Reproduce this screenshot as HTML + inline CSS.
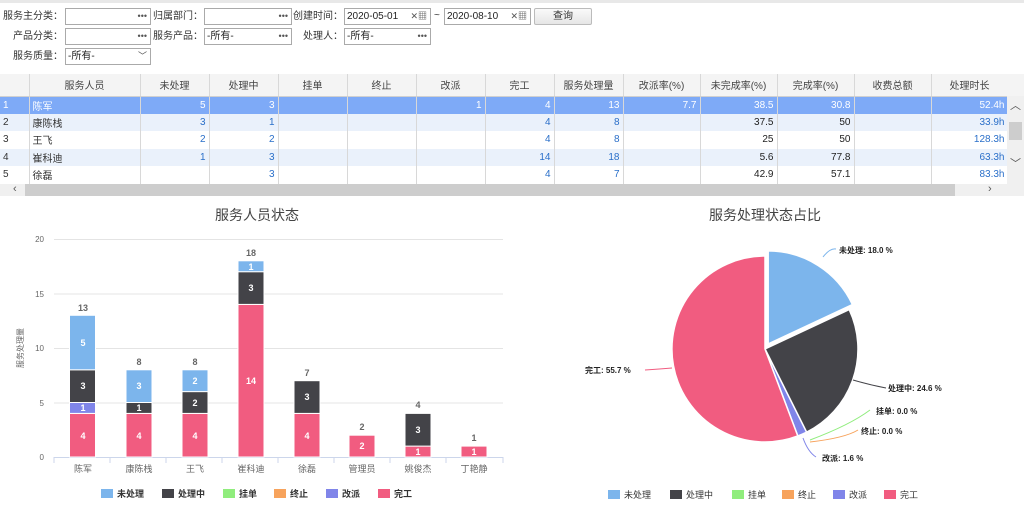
<!DOCTYPE html>
<html><head><meta charset="utf-8"><style>
*{margin:0;padding:0;box-sizing:border-box}
body{width:1024px;height:517px;background:#fff;font-family:"Liberation Sans","Noto Sans CJK SC",sans-serif;font-size:10px;color:#333;position:relative;overflow:hidden}
.a{position:absolute}
.lbl{position:absolute;font-size:10px;color:#333;text-align:right;line-height:12px}
.inp{position:absolute;height:17px;border:1px solid #aaa;background:#fff;font-size:10px;line-height:15px;padding-left:2px;color:#222}
.inp .d{position:absolute;right:3px;top:0;color:#555;font-size:9px}
table{position:absolute;left:0;top:74px;border-collapse:collapse;table-layout:fixed}
td,th{height:17.5px;border-right:1px solid #d8d8d8;font-size:10px;font-weight:normal;padding:0 3px;white-space:nowrap;overflow:hidden}
th{height:22px;background:#f4f4f4;color:#444;text-align:center;border-bottom:1px solid #d0d0d0}
td{text-align:right;color:#2a6fc9}
td.n{text-align:left;color:#333}
td.k{color:#222}
tr.sel td{background:#7eaaf7;color:#fff}
tr.alt td{background:#eaf1fb}
</style></head><body>
<div class="a" style="left:0;top:0;width:1024px;height:3px;background:#e8e8e8"></div>
<div class="lbl" style="left:0;top:11px;width:63px">服务主分类：</div>
<div class="inp" style="left:65px;top:8px;width:86px"><span class="d">•••</span></div>
<div class="lbl" style="left:150px;top:11px;width:53px">归属部门：</div>
<div class="inp" style="left:204px;top:8px;width:88px"><span class="d">•••</span></div>
<div class="lbl" style="left:290px;top:11px;width:53px">创建时间：</div>
<div class="inp" style="left:344px;top:8px;width:87px">2020-05-01<span class="d">✕▦</span></div>
<div class="a" style="left:434px;top:10px">~</div>
<div class="inp" style="left:444px;top:8px;width:87px">2020-08-10<span class="d">✕▦</span></div>
<div class="a" style="left:534px;top:8px;width:58px;height:17px;border:1px solid #bbb;border-radius:2px;background:linear-gradient(#fafafa,#e6e6e6);text-align:center;line-height:15px">查询</div>
<div class="lbl" style="left:0;top:31px;width:63px">产品分类：</div>
<div class="inp" style="left:65px;top:28px;width:86px"><span class="d">•••</span></div>
<div class="lbl" style="left:150px;top:31px;width:53px">服务产品：</div>
<div class="inp" style="left:204px;top:28px;width:88px">-所有-<span class="d">•••</span></div>
<div class="lbl" style="left:290px;top:31px;width:53px">处理人：</div>
<div class="inp" style="left:344px;top:28px;width:87px">-所有-<span class="d">•••</span></div>
<div class="lbl" style="left:0;top:51px;width:63px">服务质量：</div>
<div class="inp" style="left:65px;top:48px;width:86px">-所有-<span class="d">﹀</span></div>

<table>
<colgroup><col style="width:29px"><col style="width:111px"><col style="width:69px"><col style="width:69px"><col style="width:69px"><col style="width:69px"><col style="width:69px"><col style="width:69px"><col style="width:69px"><col style="width:77px"><col style="width:77px"><col style="width:77px"><col style="width:77px"><col style="width:77px"></colgroup>
<tr><th></th><th>服务人员</th><th>未处理</th><th>处理中</th><th>挂单</th><th>终止</th><th>改派</th><th>完工</th><th>服务处理量</th><th>改派率(%)</th><th>未完成率(%)</th><th>完成率(%)</th><th>收费总额</th><th>处理时长</th></tr>
<tr class="sel"><td class="n" style="color:#fff">1</td><td class="n" style="color:#fff">陈军</td><td>5</td><td>3</td><td></td><td></td><td>1</td><td>4</td><td>13</td><td>7.7</td><td>38.5</td><td>30.8</td><td></td><td>52.4h</td></tr>
<tr class="alt"><td class="n">2</td><td class="n">康陈栈</td><td>3</td><td>1</td><td></td><td></td><td></td><td>4</td><td>8</td><td></td><td class="k">37.5</td><td class="k">50</td><td></td><td>33.9h</td></tr>
<tr><td class="n">3</td><td class="n">王飞</td><td>2</td><td>2</td><td></td><td></td><td></td><td>4</td><td>8</td><td></td><td class="k">25</td><td class="k">50</td><td></td><td>128.3h</td></tr>
<tr class="alt"><td class="n">4</td><td class="n">崔科迪</td><td>1</td><td>3</td><td></td><td></td><td></td><td>14</td><td>18</td><td></td><td class="k">5.6</td><td class="k">77.8</td><td></td><td>63.3h</td></tr>
<tr><td class="n">5</td><td class="n">徐磊</td><td></td><td>3</td><td></td><td></td><td></td><td>4</td><td>7</td><td></td><td class="k">42.9</td><td class="k">57.1</td><td></td><td>83.3h</td></tr>
</table>
<div class="a" style="left:1007px;top:74px;width:17px;height:22px;background:#f4f4f4"></div>
<div class="a" style="left:1007px;top:96px;width:17px;height:89px;background:#f0f0f0;text-align:center;color:#555;font-size:11px;line-height:20px">︿</div>
<div class="a" style="left:1009px;top:122px;width:13px;height:18px;background:#cdcdcd"></div>
<div class="a" style="left:1007px;top:155px;width:17px;text-align:center;color:#555;font-size:11px">﹀</div>
<div class="a" style="left:0;top:184px;width:1024px;height:12px;background:#f0f0f0"></div>
<div class="a" style="left:25px;top:184px;width:930px;height:12px;background:#cdcdcd"></div>
<div class="a" style="left:13px;top:183px;font-size:11px;color:#555">‹</div>
<div class="a" style="left:988px;top:183px;font-size:11px;color:#555">›</div>

<svg class="a" style="left:0;top:0" width="1024" height="517" font-family="Liberation Sans,Noto Sans CJK SC,sans-serif">
<text x="257" y="220" font-size="14" text-anchor="middle" fill="#444">服务人员状态</text>
<g stroke="#e4e4e4" stroke-width="1">
<line x1="54" x2="503" y1="239.5" y2="239.5"/><line x1="54" x2="503" y1="294" y2="294"/><line x1="54" x2="503" y1="348.5" y2="348.5"/><line x1="54" x2="503" y1="403" y2="403"/>
</g>
<line x1="54" x2="503" y1="457.5" y2="457.5" stroke="#ccd6eb"/>
<g stroke="#ccd6eb"><line x1="54" x2="54" y1="457" y2="463"/><line x1="110" x2="110" y1="457" y2="463"/><line x1="166" x2="166" y1="457" y2="463"/><line x1="222" x2="222" y1="457" y2="463"/><line x1="278" x2="278" y1="457" y2="463"/><line x1="334" x2="334" y1="457" y2="463"/><line x1="390" x2="390" y1="457" y2="463"/><line x1="446" x2="446" y1="457" y2="463"/><line x1="503" x2="503" y1="457" y2="463"/></g>
<g font-size="8" fill="#666" text-anchor="end"><text x="44" y="242">20</text><text x="44" y="297">15</text><text x="44" y="351">10</text><text x="44" y="406">5</text><text x="44" y="460">0</text></g>
<text transform="translate(23,348) rotate(-90)" font-size="8" fill="#666" text-anchor="middle">服务处理量</text>
<g font-size="9" fill="#666" text-anchor="middle"><text x="83" y="472">陈军</text><text x="139" y="472">康陈栈</text><text x="195" y="472">王飞</text><text x="251" y="472">崔科迪</text><text x="307" y="472">徐磊</text><text x="362" y="472">管理员</text><text x="418" y="472">姚俊杰</text><text x="474" y="472">丁艳静</text></g>
<g stroke="#fff" stroke-width="1">
<rect x="69.5" y="413.4" width="26" height="43.6" fill="#f15c80"/>
<rect x="69.5" y="402.5" width="26" height="10.9" fill="#8085e9"/>
<rect x="69.5" y="369.8" width="26" height="32.7" fill="#434348"/>
<rect x="69.5" y="315.3" width="26" height="54.5" fill="#7cb5ec"/>
<rect x="126" y="413.4" width="26" height="43.6" fill="#f15c80"/>
<rect x="126" y="402.5" width="26" height="10.9" fill="#434348"/>
<rect x="126" y="369.8" width="26" height="32.7" fill="#7cb5ec"/>
<rect x="182" y="413.4" width="26" height="43.6" fill="#f15c80"/>
<rect x="182" y="391.6" width="26" height="21.8" fill="#434348"/>
<rect x="182" y="369.8" width="26" height="21.8" fill="#7cb5ec"/>
<rect x="238" y="304.4" width="26" height="152.6" fill="#f15c80"/>
<rect x="238" y="271.7" width="26" height="32.7" fill="#434348"/>
<rect x="238" y="260.8" width="26" height="10.9" fill="#7cb5ec"/>
<rect x="294" y="413.4" width="26" height="43.6" fill="#f15c80"/>
<rect x="294" y="380.7" width="26" height="32.7" fill="#434348"/>
<rect x="349" y="435.2" width="26" height="21.8" fill="#f15c80"/>
<rect x="405" y="446.1" width="26" height="10.9" fill="#f15c80"/>
<rect x="405" y="413.4" width="26" height="32.7" fill="#434348"/>
<rect x="461" y="446.1" width="26" height="10.9" fill="#f15c80"/>
</g>
<g font-size="9" font-weight="bold" fill="#fff" text-anchor="middle">
<text x="83" y="439">4</text><text x="83" y="411">1</text><text x="83" y="389">3</text><text x="83" y="346">5</text>
<text x="139" y="439">4</text><text x="139" y="411">1</text><text x="139" y="389">3</text>
<text x="195" y="439">4</text><text x="195" y="406">2</text><text x="195" y="384">2</text>
<text x="251" y="384">14</text><text x="251" y="291">3</text><text x="251" y="270">1</text>
<text x="307" y="439">4</text><text x="307" y="400">3</text>
<text x="362" y="449">2</text><text x="418" y="455">1</text><text x="418" y="433">3</text><text x="474" y="455">1</text>
</g>
<g font-size="9" font-weight="bold" fill="#666" text-anchor="middle">
<text x="83" y="311">13</text><text x="139" y="365">8</text><text x="195" y="365">8</text><text x="251" y="256">18</text><text x="307" y="376">7</text><text x="362" y="430">2</text><text x="418" y="408">4</text><text x="474" y="441">1</text>
</g>
<g font-size="9" font-weight="bold" fill="#333">
<rect x="101" y="489" width="12" height="9" fill="#7cb5ec"/><text x="117" y="497">未处理</text>
<rect x="162" y="489" width="12" height="9" fill="#434348"/><text x="178" y="497">处理中</text>
<rect x="223" y="489" width="12" height="9" fill="#90ed7d"/><text x="239" y="497">挂单</text>
<rect x="274" y="489" width="12" height="9" fill="#f7a35c"/><text x="290" y="497">终止</text>
<rect x="326" y="489" width="12" height="9" fill="#8085e9"/><text x="342" y="497">改派</text>
<rect x="378" y="489" width="12" height="9" fill="#f15c80"/><text x="394" y="497">完工</text>
</g>

<text x="765" y="220" font-size="14" text-anchor="middle" fill="#444">服务处理状态占比</text>
<g stroke="#fff" stroke-width="1.5">
<path d="M768.2,343.9 L768.2,250.9 A93,93 0 0 1 852.4,304.5 Z" fill="#7cb5ec"/>
<path d="M765,349 L849.2,309.6 A93,93 0 0 1 806.6,432.2 Z" fill="#434348"/>
<path d="M765,349 L806.6,432.2 A93,93 0 0 1 797.8,436 Z" fill="#8085e9"/>
<path d="M765,349 L797.8,436 A93,93 0 1 1 765,256 Z" fill="#f15c80"/>
</g>
<g fill="none" stroke-width="1">
<path d="M823,257 Q830,248 836,249" stroke="#7cb5ec"/>
<path d="M853,380 Q870,385 886,388" stroke="#434348"/>
<path d="M810,440 Q850,425 870,410" stroke="#90ed7d"/>
<path d="M810,442 Q845,438 858,430" stroke="#f7a35c"/>
<path d="M803,438 Q808,452 816,457" stroke="#8085e9"/>
<path d="M672,368 Q660,369 645,370" stroke="#f15c80"/>
</g>
<g font-size="8" font-weight="bold" fill="#222">
<text x="839" y="253">未处理: 18.0 %</text>
<text x="888" y="391">处理中: 24.6 %</text>
<text x="876" y="414">挂单: 0.0 %</text>
<text x="861" y="434">终止: 0.0 %</text>
<text x="822" y="461">改派: 1.6 %</text>
<text x="585" y="373">完工: 55.7 %</text>
</g>
<g font-size="9" fill="#333">
<rect x="608" y="490" width="12" height="9" fill="#7cb5ec"/><text x="624" y="498">未处理</text>
<rect x="670" y="490" width="12" height="9" fill="#434348"/><text x="686" y="498">处理中</text>
<rect x="732" y="490" width="12" height="9" fill="#90ed7d"/><text x="748" y="498">挂单</text>
<rect x="782" y="490" width="12" height="9" fill="#f7a35c"/><text x="798" y="498">终止</text>
<rect x="833" y="490" width="12" height="9" fill="#8085e9"/><text x="849" y="498">改派</text>
<rect x="884" y="490" width="12" height="9" fill="#f15c80"/><text x="900" y="498">完工</text>
</g>
</svg>
</body></html>
